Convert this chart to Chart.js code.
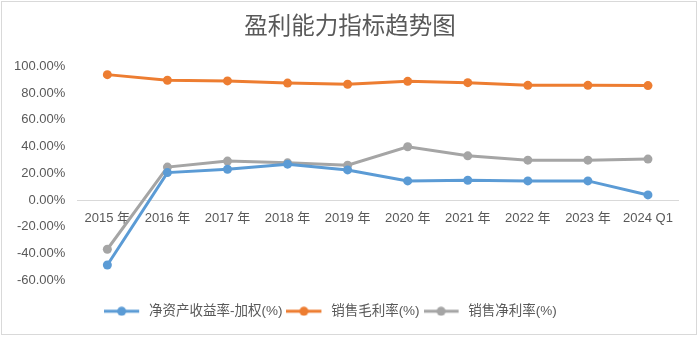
<!DOCTYPE html>
<html>
<head>
<meta charset="utf-8">
<script src="https://cdn.jsdelivr.net/npm/chart.js@4/dist/chart.umd.min.js"></script>
<style>
    html, body { margin: 0; padding: 0; background: #fff; }
    #wrap {
        position: absolute; left: 1px; top: 1px;
        width: 696px; height: 334px;
        border: 1px solid #d9d9d9; box-sizing: border-box;
    }
</style>
</head>
<body>
<div id="wrap"><canvas id="profitChart"></canvas></div>
<script>
const years = ["2015 年", "2016 年", "2017 年", "2018 年", "2019 年", "2020 年", "2021 年", "2022 年", "2023 年", "2024 Q1"];
const roe = [-48.6, 20.5, 23.0, 26.8, 22.5, 14.3, 14.8, 14.3, 14.3, 3.8];
const grossMargin = [93.7, 89.5, 89.0, 87.4, 86.5, 88.7, 87.7, 85.7, 85.7, 85.5];
const netMargin = [-36.8, 24.6, 29.1, 27.8, 26.0, 39.8, 33.0, 29.8, 29.8, 30.6];
const seriesNames = ["净资产收益率-加权(%)", "销售毛利率(%)", "销售净利率(%)"];
const colors = ["#5b9bd5", "#ed7d31", "#a5a5a5"];

const FONT = "'Liberation Sans', 'Noto Sans CJK SC', sans-serif";

// legend marker: short line with a dot on it (a bit of blank space on the right)
function legendMarker(color) {
    const c = document.createElement("canvas");
    c.width = 38;
    c.height = 10;
    const g = c.getContext("2d");
    g.strokeStyle = color;
    g.lineWidth = 3;
    g.beginPath();
    g.moveTo(0, 5);
    g.lineTo(35, 5);
    g.stroke();
    g.fillStyle = color;
    g.beginPath();
    g.arc(17.5, 5, 4.5, 0, Math.PI * 2);
    g.fill();
    return c;
}

function makeSet(i, values) {
    return {
        label: seriesNames[i],
        data: values,
        borderColor: colors[i],
        backgroundColor: colors[i],
        borderWidth: 3,
        pointRadius: 4.5,
        pointHoverRadius: 4.5,
        pointBorderWidth: 0,
        tension: 0,
        legendMarker: legendMarker(colors[i]),
    };
}

// legend sits a little left of centre, title is centred on the whole image
const nudge = {
    id: "nudge",
    afterLayout(chart) {
        if (chart.legend) chart.legend.left -= 27;
        if (chart.titleBlock) {
            chart.titleBlock.left += 6;
            chart.titleBlock.right += 6;
        }
    },
};

const ctx = document.getElementById("profitChart");

new Chart(ctx, {
    type: "line",
    data: {
        labels: years,
        datasets: [
            makeSet(0, roe),
            makeSet(1, grossMargin),
            makeSet(2, netMargin),
        ],
    },
    options: {
        responsive: true,
        maintainAspectRatio: false,
        animation: false,
        layout: {
            padding: { left: 8, right: 18, top: 0, bottom: 6 }
        },
        scales: {
            x: {
                position: { y: 0 },
                offset: true,
                grid: { display: false },
                border: { display: true, color: "#d9d9d9", width: 1 },
                ticks: {
                    color: "#595959",
                    font: { family: FONT, size: 13 },
                    maxRotation: 0,
                    padding: 3,
                },
            },
            y: {
                min: -60,
                max: 100,
                grid: { display: false },
                border: { display: false },
                ticks: {
                    stepSize: 20,
                    color: "#595959",
                    font: { family: FONT, size: 13 },
                    padding: 4,
                    callback: (v) => v.toFixed(2) + "%",
                },
            },
        },
        plugins: {
            title: {
                display: true,
                text: "盈利能力指标趋势图",
                color: "#595959",
                font: { family: FONT, size: 23.5, weight: "normal" },
                padding: { top: 11, bottom: 25 },
            },
            legend: {
                position: "bottom",
                // empty title only used as a spacer above the legend items
                title: {
                    display: true,
                    text: "",
                    font: { size: 1 },
                    padding: { top: 0, bottom: 19 },
                },
                labels: {
                    color: "#595959",
                    font: { family: FONT, size: 13.5 },
                    usePointStyle: true,
                    pointStyleWidth: 38,
                    padding: 4,
                    generateLabels: (chart) => chart.data.datasets.map((ds, i) => ({
                        text: ds.label,
                        fontColor: "#595959",
                        pointStyle: ds.legendMarker,
                        datasetIndex: i,
                        hidden: false,
                        lineWidth: 0,
                    })),
                },
            },
            tooltip: { enabled: false },
        },
    },
    plugins: [nudge],
});
</script>
</body>
</html>
